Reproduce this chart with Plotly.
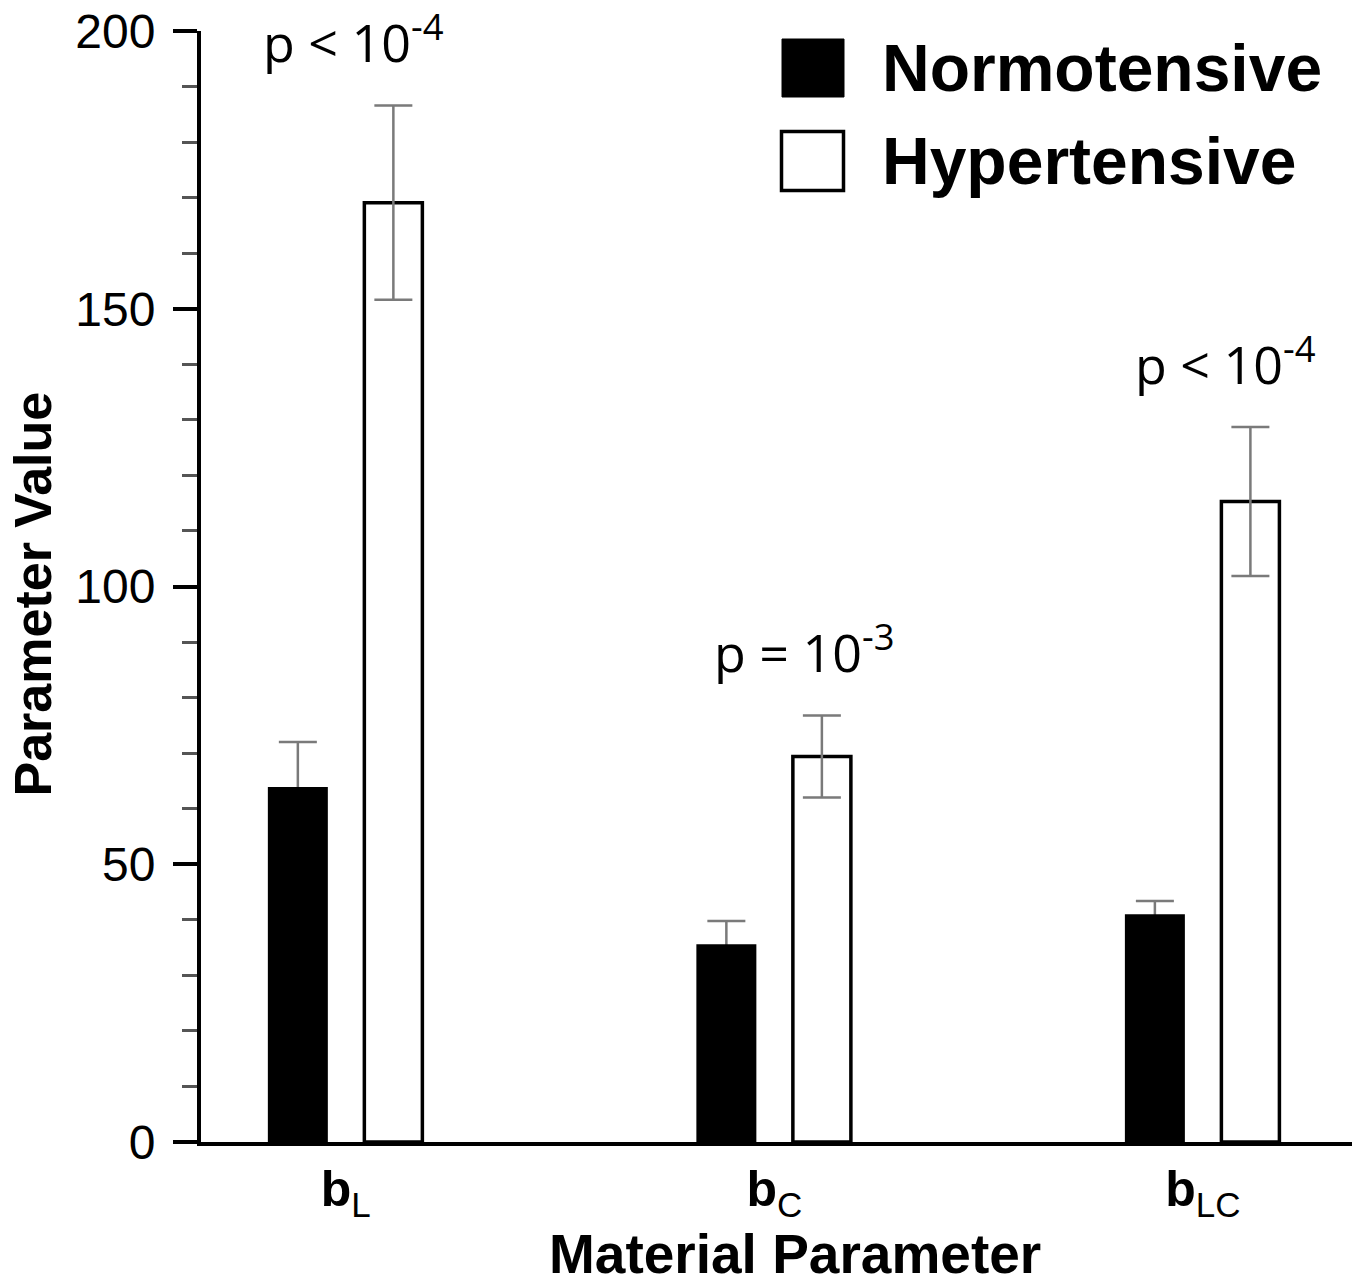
import plotly.graph_objects as go

# ---- data ----
categories = ["<b>b</b><sub>L</sub>", "<b>b</b><sub>C</sub>", "<b>b</b><sub>LC</sub>"]
normotensive = [63.9, 35.6, 41.0]
normotensive_err = [8.1, 4.2, 2.4]
hypertensive = [169.1, 69.4, 115.3]
hypertensive_err = [17.5, 7.4, 13.4]
p_labels = ["p &lt; 10<sup>-4</sup>", "p = 10<sup>-3</sup>", "p &lt; 10<sup>-4</sup>"]
y_ticks = [0, 50, 100, 150, 200]

# ---- layout constants (pixels) ----
W, H = 1364, 1288
ML, MR, MT, MB = 201, 12, 31, 146
PW = W - ML - MR
PH = H - MT - MB


def px_x(px):
    return (px - ML) / PW


def px_y(py):
    return (H - MB - py) / PH


ERR_STYLE = dict(color="#7a7a7a", thickness=2.5, width=19)

fig = go.Figure()
# error bars of the normotensive group, drawn beneath the black bars so only
# the upper half shows (as in the original figure)
fig.add_trace(go.Bar(
    name="Normotensive SD", x=categories, y=normotensive,
    offset=-0.182, width=0.140,
    marker=dict(color="rgba(0,0,0,0)", line=dict(width=0)),
    error_y=dict(type="data", array=normotensive_err, **ERR_STYLE),
    showlegend=False, hoverinfo="skip", cliponaxis=False,
))
fig.add_trace(go.Bar(
    name="Normotensive", x=categories, y=normotensive,
    offset=-0.182, width=0.140,
    marker=dict(color="black", line=dict(color="black", width=0)),
    showlegend=False, cliponaxis=False,
))
fig.add_trace(go.Bar(
    name="Hypertensive", x=categories, y=hypertensive,
    offset=0.0432, width=0.1354,
    marker=dict(color="white", line=dict(color="black", width=3.5)),
    error_y=dict(type="data", array=hypertensive_err, **ERR_STYLE),
    showlegend=False, cliponaxis=False,
))

# p-value annotations placed above the hypertensive error bars
label_shift = [8, 30, 23]
annotations = []
for c, v, e, t, s in zip(categories, hypertensive, hypertensive_err, p_labels, label_shift):
    annotations.append(dict(
        x=c, y=v + e, xref="x", yref="y", text=t, showarrow=False,
        xanchor="center", yanchor="bottom", xshift=s, yshift=26,
        font=dict(family="Open Sans", size=52, color="black"),
    ))

# custom legend
shapes = [
    dict(type="rect", xref="paper", yref="paper",
         x0=px_x(782), x1=px_x(844), y0=px_y(97), y1=px_y(39),
         fillcolor="black", line=dict(color="black", width=1)),
    dict(type="rect", xref="paper", yref="paper",
         x0=px_x(781.5), x1=px_x(843.5), y0=px_y(190.5), y1=px_y(131.5),
         fillcolor="white", line=dict(color="black", width=3.5)),
]
for name, yc in [("Normotensive", 68), ("Hypertensive", 161)]:
    annotations.append(dict(
        xref="paper", yref="paper", x=px_x(880), y=px_y(yc),
        text="<b>%s</b>" % name, showarrow=False, xanchor="left", yanchor="middle",
        font=dict(family="Liberation Sans", size=66, color="black"),
    ))

# axis titles
annotations.append(dict(
    xref="paper", yref="paper", x=px_x(795), y=px_y(1286),
    text="<b>Material Parameter</b>", showarrow=False,
    xanchor="center", yanchor="bottom", borderpad=0,
    font=dict(family="Liberation Sans", size=55, color="black"),
))
annotations.append(dict(
    xref="paper", yref="paper", x=px_x(32.5), y=px_y(594),
    text="<b>Parameter Value</b>", showarrow=False, textangle=-90,
    xanchor="center", yanchor="middle",
    font=dict(family="Liberation Sans", size=52, color="black"),
))

fig.update_layout(
    width=W, height=H,
    margin=dict(l=ML, r=MR, t=MT, b=MB, autoexpand=False),
    paper_bgcolor="white", plot_bgcolor="white",
    barmode="overlay",
    annotations=annotations, shapes=shapes,
    font=dict(family="Liberation Sans", color="black"),
)
fig.update_xaxes(
    type="category", range=[-0.338, 2.348],
    showline=True, linecolor="black", linewidth=4,
    ticks="", showgrid=False, zeroline=False,
    tickfont=dict(family="Liberation Sans", size=50, color="black"),
)
fig.update_yaxes(
    range=[0, 200], tickmode="array", tickvals=y_ticks,
    showline=True, linecolor="black", linewidth=4,
    ticks="outside", ticklen=24, tickwidth=4, tickcolor="black",
    ticklabelstandoff=8,
    minor=dict(dtick=10, ticks="outside", ticklen=15, tickwidth=2.5, tickcolor="#555555"),
    showgrid=False, zeroline=False,
    tickfont=dict(family="Liberation Sans", size=48, color="black"),
)

fig.write_html("out.html", config={"displayModeBar": False},
               post_script="document.body.style.margin='0';")
